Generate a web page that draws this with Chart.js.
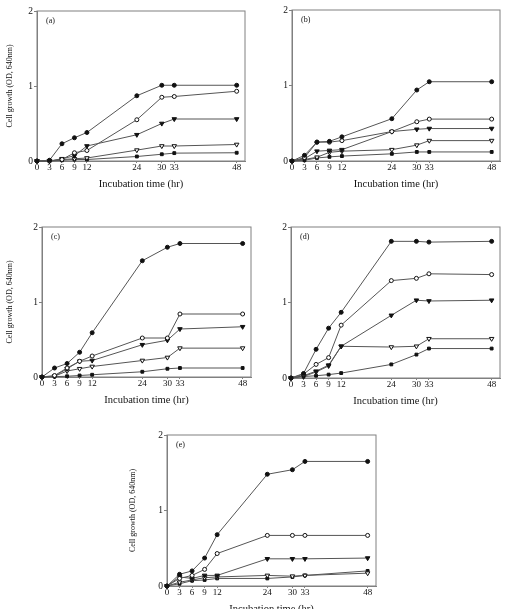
<!DOCTYPE html>
<html>
<head>
<meta charset="UTF-8">
<title>Cell growth</title>
<script src="https://cdn.jsdelivr.net/npm/chart.js@4.4.1/dist/chart.umd.min.js"></script>
<style>
body{margin:0;background:#fff;overflow:hidden;}
#wrap{position:relative;width:505px;height:609px;overflow:hidden;}
.panel{position:absolute;}
</style>
</head>
<body>
<div id="wrap"></div>

<script>
// sampling times and tick labels
const hours = [0, 3, 6, 9, 12, 24, 30, 33, 48];
const xTicks = [0, 3, 6, 9, 12, 24, 30, 33, 48];
const yTicks = [0, 1, 2];

// (a)
const aFilledCircle = [0, 0.01, 0.23, 0.31, 0.38, 0.87, 1.01, 1.01, 1.01];
const aOpenCircle   = [0, 0, 0.02, 0.11, 0.14, 0.55, 0.85, 0.86, 0.93];
const aFilledTri    = [0, 0, 0.03, 0.07, 0.20, 0.35, 0.50, 0.56, 0.56];
const aOpenTri      = [0, 0, 0.02, 0.03, 0.04, 0.145, 0.20, 0.20, 0.22];
const aFilledSquare = [0, 0, 0.01, 0.02, 0.02, 0.06, 0.09, 0.105, 0.11];
// (b)
const bFilledCircle = [0, 0.075, 0.25, 0.26, 0.32, 0.56, 0.94, 1.05, 1.05];
const bOpenCircle   = [0, 0.045, 0.25, 0.25, 0.27, 0.39, 0.52, 0.555, 0.555];
const bFilledTri    = [0, 0.03, 0.13, 0.14, 0.15, 0.39, 0.42, 0.43, 0.43];
const bOpenTri      = [0, 0.02, 0.05, 0.115, 0.13, 0.15, 0.21, 0.27, 0.27];
const bFilledSquare = [0, 0.01, 0.04, 0.055, 0.065, 0.095, 0.12, 0.12, 0.12];
// (c)
const cFilledCircle = [0, 0.12, 0.18, 0.33, 0.59, 1.55, 1.73, 1.78, 1.78];
const cOpenCircle   = [0, 0.02, 0.12, 0.21, 0.28, 0.52, 0.52, 0.84, 0.84];
const cFilledTri    = [0, 0.01, 0.11, 0.21, 0.22, 0.43, 0.49, 0.64, 0.67];
const cOpenTri      = [0, 0.01, 0.08, 0.11, 0.14, 0.22, 0.26, 0.385, 0.385];
const cFilledSquare = [0, 0.005, 0.01, 0.02, 0.03, 0.07, 0.11, 0.12, 0.12];
// (d)
const dFilledCircle = [0, 0.06, 0.38, 0.66, 0.87, 1.81, 1.81, 1.80, 1.81];
const dOpenCircle   = [0, 0.05, 0.18, 0.27, 0.70, 1.29, 1.32, 1.38, 1.37];
const dFilledTri    = [0, 0.03, 0.09, 0.17, 0.42, 0.83, 1.03, 1.02, 1.03];
const dOpenTri      = [0, 0.02, 0.08, 0.16, 0.42, 0.41, 0.42, 0.52, 0.52];
const dFilledSquare = [0, 0.02, 0.03, 0.045, 0.065, 0.18, 0.31, 0.39, 0.39];
// (e)
const eFilledCircle = [0, 0.155, 0.20, 0.37, 0.68, 1.48, 1.54, 1.65, 1.65];
const eOpenCircle   = [0, 0.10, 0.14, 0.22, 0.43, 0.67, 0.67, 0.67, 0.67];
const eFilledTri    = [0, 0.12, 0.10, 0.14, 0.14, 0.36, 0.36, 0.36, 0.37];
const eOpenTri      = [0, 0.05, 0.08, 0.11, 0.12, 0.14, 0.13, 0.14, 0.17];
const eFilledSquare = [0, 0.03, 0.07, 0.08, 0.10, 0.10, 0.12, 0.14, 0.20];
</script>

<script>
const serif = '"Liberation Serif", "DejaVu Serif", serif';
const axisGray = '#808080';
const ink = '#111';

// marker look for the five series, same order in every panel
const markers = [
  {style: 'circle',   filled: true,  rot: 0,   r: 2},
  {style: 'circle',   filled: false, rot: 0,   r: 2},
  {style: 'triangle', filled: true,  rot: 180, r: 2.6},
  {style: 'triangle', filled: false, rot: 180, r: 2.6},
  {style: 'rect',     filled: true,  rot: 0,   r: 2}
];

// where each panel sits on the page (plot box L/R/T/B in page pixels)
const panels = [
  {label: '(a)', x: 0,   y: 0,   w: 250, L: 37,  R: 246, T: 11,  B: 161, yTitle: true,
   series: [aFilledCircle, aOpenCircle, aFilledTri, aOpenTri, aFilledSquare]},
  {label: '(b)', x: 250, y: 0,   w: 255, L: 292, R: 502, T: 10,  B: 161, yTitle: false,
   series: [bFilledCircle, bOpenCircle, bFilledTri, bOpenTri, bFilledSquare]},
  {label: '(c)', x: 0,   y: 210, w: 256, L: 42,  R: 252, T: 227, B: 377, yTitle: true,
   series: [cFilledCircle, cOpenCircle, cFilledTri, cOpenTri, cFilledSquare]},
  {label: '(d)', x: 250, y: 210, w: 255, L: 291, R: 501, T: 227, B: 378, yTitle: false,
   series: [dFilledCircle, dOpenCircle, dFilledTri, dOpenTri, dFilledSquare]},
  {label: '(e)', x: 123, y: 420, w: 260, L: 167, R: 376, T: 435, B: 586, yTitle: true,
   series: [eFilledCircle, eOpenCircle, eFilledTri, eOpenTri, eFilledSquare]}
];

const xAxisH = 36;

// box round the plot and the panel letter
const frame = {
  id: 'frame',
  beforeDatasetsDraw(chart, args, opts) {
    const {ctx, chartArea: a} = chart;
    ctx.save();
    ctx.strokeStyle = axisGray;
    ctx.lineWidth = 1;
    ctx.strokeRect(a.left, a.top, a.right - a.left, a.bottom - a.top);
    ctx.fillStyle = ink;
    ctx.font = '8px ' + serif;
    ctx.textBaseline = 'middle';
    ctx.fillText(opts.label, a.left + 9, a.top + 10);
    ctx.restore();
  }
};

const wrap = document.getElementById('wrap');

panels.forEach(function(p) {
  const h = (p.B - p.y) + xAxisH;
  const div = document.createElement('div');
  div.className = 'panel';
  div.style.left = p.x + 'px';
  div.style.top = p.y + 'px';
  div.style.width = p.w + 'px';
  div.style.height = h + 'px';
  const cv = document.createElement('canvas');
  cv.width = p.w;
  cv.height = h;
  div.appendChild(cv);
  wrap.appendChild(div);

  const datasets = p.series.map(function(vals, i) {
    const m = markers[i];
    return {
      data: hours.map((t, k) => ({x: t, y: vals[k]})),
      borderColor: '#555',
      borderWidth: 1,
      pointStyle: m.style,
      pointRotation: m.rot,
      pointRadius: m.r,
      pointBorderWidth: 1,
      pointBorderColor: ink,
      pointBackgroundColor: m.filled ? ink : '#fff',
      clip: false,
      tension: 0
    };
  });

  new Chart(cv, {
    type: 'line',
    data: {datasets: datasets},
    plugins: [frame],
    options: {
      responsive: false,
      animation: false,
      events: [],
      layout: {padding: {top: p.T - p.y, right: p.x + p.w - p.R, left: 0, bottom: 0}},
      plugins: {
        legend: {display: false},
        tooltip: {enabled: false},
        frame: {label: p.label}
      },
      scales: {
        x: {
          type: 'linear',
          min: 0,
          max: 50,
          afterBuildTicks: s => { s.ticks = xTicks.map(v => ({value: v})); },
          afterFit: s => { s.height = xAxisH; },
          grid: {drawOnChartArea: false, tickLength: 2, color: axisGray},
          border: {color: axisGray},
          ticks: {autoSkip: false, maxRotation: 0, padding: 0, color: ink,
                  font: {family: serif, size: 9, lineHeight: 1}},
          title: {display: true, text: 'Incubation time (hr)', color: ink,
                  font: {family: serif, size: 10.5, lineHeight: 1.2},
                  padding: {top: 0, bottom: 6.7}}
        },
        y: {
          min: 0,
          max: 2,
          afterBuildTicks: s => { s.ticks = yTicks.map(v => ({value: v})); },
          afterFit: s => { s.width = p.L - p.x; },
          grid: {drawOnChartArea: false, tickLength: 3, color: axisGray},
          border: {color: axisGray},
          ticks: {padding: 1, color: ink, font: {family: serif, size: 9.5}},
          title: {display: p.yTitle, text: 'Cell growth (OD, 640nm)', color: ink,
                  font: {family: serif, size: 8, lineHeight: 1.2},
                  padding: {top: 4.7, bottom: 0}}
        }
      }
    }
  });
});
</script>
</body>
</html>
